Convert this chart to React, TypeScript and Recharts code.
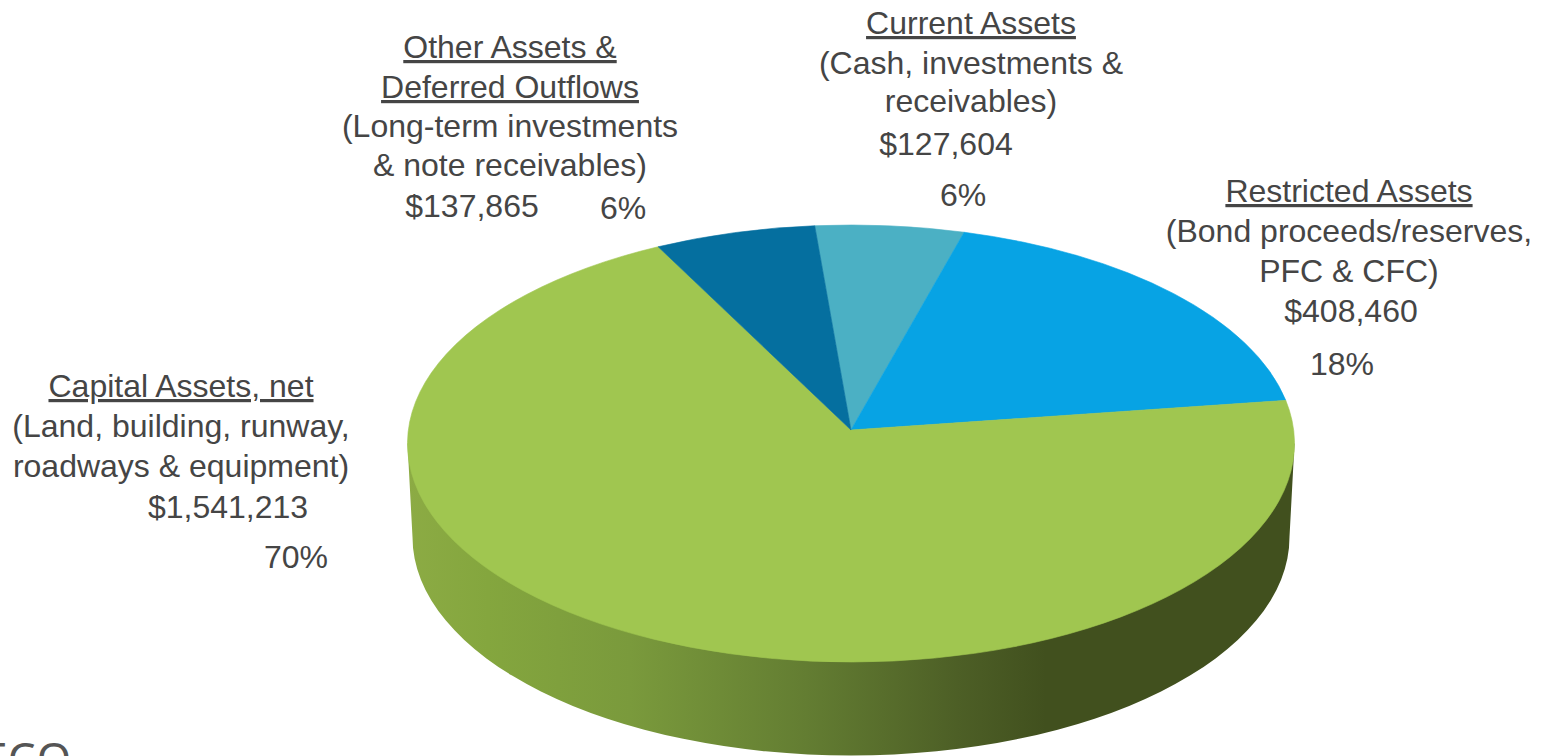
import React from "react";
import { PieChart, Pie, Cell } from "recharts";

const categories = ["Current Assets", "Restricted Assets", "Capital Assets, net", "Other Assets & Deferred Outflows"];
const amounts = [127604, 408460, 1541213, 137865];
const sliceColors = ["#4bb0c4", "#07a3e4", "#a0c650", "#056f9f"];

const currentLines = ["Current Assets", "(Cash, investments &", "receivables)", "$127,604", "6%"];
const restrictedLines = ["Restricted Assets", "(Bond proceeds/reserves,", "PFC & CFC)", "$408,460", "18%"];
const capitalLines = ["Capital Assets, net", "(Land, building, runway,", "roadways & equipment)", "$1,541,213", "70%"];
const otherLines = ["Other Assets &", "Deferred Outflows", "(Long-term investments", "& note receivables)", "$137,865", "6%"];

const data = categories.map((name, i) => ({ name, value: amounts[i] }));

const W = 1544;
const H = 756;
const CX = 851;
const CY = 430;
const RX = 443.5;
const RY = 218.5;
const TOP_SHIFT = 13.5;
const DEPTH = 93.5;
const BOTTOM_RX = 438.5;

const ray = (cx: number, cy: number, r: number, deg: number) => {
  const a = (deg * Math.PI) / 180;
  const k = RY / r;
  const dx = Math.cos(a);
  const dy = -k * Math.sin(a);
  const A = (dx * dx) / (r * r) + (dy * dy) / (RY * RY);
  const B = (-2 * TOP_SHIFT * dy) / (RY * RY);
  const C = (TOP_SHIFT * TOP_SHIFT) / (RY * RY) - 1;
  const t = (-B + Math.sqrt(B * B - 4 * A * C)) / (2 * A);
  return { x: cx + t * dx, y: cy + t * dy };
};

const TopSlice = (p: any) => {
  const { cx, cy, outerRadius, startAngle, endAngle, fill } = p;
  const s = ray(cx, cy, outerRadius, startAngle);
  const e = ray(cx, cy, outerRadius, endAngle);
  const large = Math.abs(startAngle - endAngle) > 180 ? 1 : 0;
  const d = `M${cx},${cy}L${s.x},${s.y}A${outerRadius},${RY} 0 ${large} 1 ${e.x},${e.y}Z`;
  return <path d={d} fill={fill} stroke={fill} strokeWidth={0.6} strokeLinejoin="round" />;
};

const WallSlice = (p: any) => {
  const { cx, cy, outerRadius, startAngle, endAngle } = p;
  const lo = Math.max(Math.min(startAngle, endAngle), -180);
  const hi = Math.min(Math.max(startAngle, endAngle), 0);
  if (hi <= lo) return <g />;
  const cyTop = cy + TOP_SHIFT;
  const cyBot = cyTop + DEPTH;
  const d = `M${cx - outerRadius},${cyTop}L${cx - BOTTOM_RX},${cyBot}A${BOTTOM_RX},${RY} 0 0 0 ${cx + BOTTOM_RX},${cyBot}L${cx + outerRadius},${cyTop}Z`;
  return <path d={d} fill="url(#wallGradient)" />;
};

const fontFamily = '"Liberation Sans", Arial, sans-serif';
const ink = "#454545";

type Row = [string, number, number, boolean?];

const labelRows: Row[] = [
  [otherLines[0], 510, 58, true],
  [otherLines[1], 510, 98, true],
  [otherLines[2], 510, 137],
  [otherLines[3], 510, 176],
  [otherLines[4], 472, 217],
  [otherLines[5], 623, 219],
  [currentLines[0], 971, 34, true],
  [currentLines[1], 971, 74],
  [currentLines[2], 971, 112],
  [currentLines[3], 946, 155],
  [currentLines[4], 963, 206],
  [restrictedLines[0], 1349, 202, true],
  [restrictedLines[1], 1349, 242],
  [restrictedLines[2], 1349, 282],
  [restrictedLines[3], 1351, 322],
  [restrictedLines[4], 1342, 375],
  [capitalLines[0], 181, 397, true],
  [capitalLines[1], 181, 437],
  [capitalLines[2], 181, 477],
  [capitalLines[3], 228, 518],
  [capitalLines[4], 296, 568],
];

export default function App() {
  return (
    <div style={{ position: "absolute", left: 0, top: 0, width: W, height: H, overflow: "hidden", background: "#fff" }}>
      <PieChart width={W} height={H} margin={{ top: 0, right: 0, bottom: 0, left: 0 }}>
        <defs>
          <linearGradient id="wallGradient" gradientUnits="userSpaceOnUse" x1={408} y1={0} x2={1294} y2={0}>
            <stop offset="0" stopColor="#8cab44" />
            <stop offset="0.09" stopColor="#84a63e" />
            <stop offset="0.25" stopColor="#7a9a3c" />
            <stop offset="0.45" stopColor="#637d32" />
            <stop offset="0.62" stopColor="#4d5f26" />
            <stop offset="0.72" stopColor="#41501e" />
            <stop offset="1" stopColor="#41501e" />
          </linearGradient>
        </defs>
        <Pie
          data={data}
          dataKey="value"
          nameKey="name"
          cx={CX}
          cy={CY}
          innerRadius={0}
          outerRadius={RX}
          startAngle={95}
          endAngle={-265}
          paddingAngle={0}
          stroke="none"
          isAnimationActive={false}
          shape={WallSlice}
        />
        <Pie
          data={data}
          dataKey="value"
          nameKey="name"
          cx={CX}
          cy={CY}
          innerRadius={0}
          outerRadius={RX}
          startAngle={95}
          endAngle={-265}
          paddingAngle={0}
          stroke="none"
          isAnimationActive={false}
          shape={TopSlice}
        >
          {data.map((d, i) => (
            <Cell key={d.name} fill={sliceColors[i]} />
          ))}
        </Pie>
        {labelRows.map(([t, x, y, u], i) => (
          <text
            key={i}
            x={x}
            y={y}
            textAnchor="middle"
            fontFamily={fontFamily}
            fontSize={32}
            fill={ink}
            textDecoration={u ? "underline" : undefined}
          >
            {t}
          </text>
        ))}
        <text x={-17} y={774} fontFamily='"Noto Sans", sans-serif' fontSize={44} letterSpacing={2} fill="#555">
          FCO
        </text>
      </PieChart>
    </div>
  );
}
